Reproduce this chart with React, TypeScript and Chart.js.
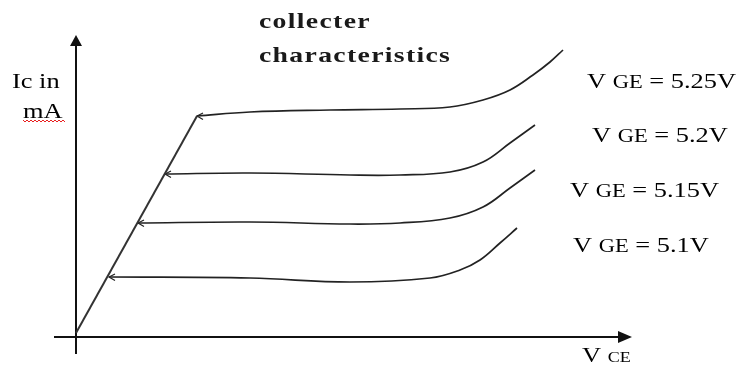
import React, { useEffect, useRef } from 'react';
import { Chart, registerables } from 'chart.js';

Chart.register(...registerables);

// ---- text ----
const TITLE_LINES = ['collecter', 'characteristics'];
const Y_LABEL_LINES = ['Ic in', 'mA'];
const X_LABEL = ['V', 'CE'];
const GATE_VOLTAGES = ['5.25', '5.2', '5.15', '5.1'];

// ---- data (arbitrary units: V_CE, I_C) ----
const vceOhmic = [0, 12.1];
const icOhmic = [0.4, 22.1];

const vce525 = [12.1, 17.4, 25.4, 32.4, 37.4, 40.7, 43.4, 45.7, 47.4, 48.7];
const ic525 = [22.1, 22.5, 22.7, 22.8, 23.0, 23.7, 24.7, 26.2, 27.5, 28.7];

const vce520 = [8.9, 17.4, 27.4, 32.4, 37.4, 40.7, 43.4, 45.9];
const ic520 = [16.3, 16.4, 16.2, 16.2, 16.5, 17.5, 19.4, 21.2];

const vce515 = [6.2, 17.4, 27.4, 32.4, 37.4, 40.7, 43.4, 45.9];
const ic515 = [11.4, 11.5, 11.3, 11.4, 11.9, 13.0, 14.9, 16.7];

const vce510 = [3.3, 17.4, 27.4, 35.4, 38.4, 40.4, 42.4, 44.1];
const ic510 = [6.0, 5.9, 5.5, 5.9, 6.7, 7.7, 9.4, 10.9];

const X_MIN = -2.1;
const X_MAX = 54.6;
const Y_MIN = -1.6;
const Y_MAX = 29.3;

// ---- layout of free text (pixels) ----
const SERIES_LABEL_POS = [
  [587, 88],
  [592, 142],
  [570, 197],
  [573, 252],
];
const TITLE_POS = [
  [259, 28],
  [259, 62],
];
const Y_LABEL_POS = [
  [12, 88],
  [23, 118],
];
const X_LABEL_POS = [582, 362];
const SX = 1.2;
const TITLE_SX = 1.32;
const SERIF = "'Liberation Serif', 'Times New Roman', serif";

const toPts = (xs: number[], ys: number[]) => xs.map((x, i) => ({ x, y: ys[i] }));

type Run = { text: string; font: string };

function drawRuns(
  ctx: CanvasRenderingContext2D,
  x: number,
  y: number,
  runs: Run[],
  spacing = '0px',
  sx = SX,
) {
  ctx.save();
  ctx.translate(x, y);
  ctx.scale(sx, 1);
  (ctx as any).letterSpacing = spacing;
  ctx.textBaseline = 'alphabetic';
  ctx.textAlign = 'left';
  let cx = 0;
  for (const r of runs) {
    ctx.font = r.font;
    ctx.fillText(r.text, cx, 0);
    cx += ctx.measureText(r.text).width;
  }
  ctx.restore();
}

export default function App() {
  const ref = useRef<HTMLCanvasElement | null>(null);

  useEffect(() => {
    if (!ref.current) return;

    const arrow = document.createElement('canvas');
    arrow.width = 16;
    arrow.height = 12;
    const actx = arrow.getContext('2d')!;
    actx.strokeStyle = '#222';
    actx.lineWidth = 1.2;
    actx.beginPath();
    actx.moveTo(14, 3);
    actx.lineTo(8, 6);
    actx.lineTo(14, 9.5);
    actx.stroke();

    const curveBase = {
      showLine: true,
      borderColor: '#222',
      borderWidth: 1.7,
      tension: 0.4,
      pointRadius: (c: any) => (c.dataIndex === 0 ? 4 : 0),
      pointStyle: () => arrow,
      pointHoverRadius: 0,
    };

    const decor = {
      id: 'decor',
      afterDraw(chart: any) {
        const ctx: CanvasRenderingContext2D = chart.ctx;
        const { chartArea } = chart;
        const x0 = chart.scales.x.getPixelForValue(0);
        const y0 = chart.scales.y.getPixelForValue(0);
        ctx.save();
        ctx.fillStyle = '#111';
        // x arrow
        ctx.beginPath();
        ctx.moveTo(chartArea.right + 10, y0);
        ctx.lineTo(chartArea.right - 4, y0 - 6);
        ctx.lineTo(chartArea.right - 4, y0 + 6);
        ctx.closePath();
        ctx.fill();
        // y arrow
        ctx.beginPath();
        ctx.moveTo(x0, chartArea.top - 9);
        ctx.lineTo(x0 - 6, chartArea.top + 2);
        ctx.lineTo(x0 + 6, chartArea.top + 2);
        ctx.closePath();
        ctx.fill();

        // title
        ctx.fillStyle = '#1a1a1a';
        TITLE_LINES.forEach((t, i) => {
          drawRuns(
            ctx,
            TITLE_POS[i][0],
            TITLE_POS[i][1],
            [{ text: t, font: `bold 21px ${SERIF}` }],
            '1px',
            TITLE_SX,
          );
        });

        ctx.fillStyle = '#000';
        // y label
        Y_LABEL_LINES.forEach((t, i) => {
          drawRuns(ctx, Y_LABEL_POS[i][0], Y_LABEL_POS[i][1], [{ text: t, font: `22px ${SERIF}` }]);
        });
        // spell-check squiggle under "mA"
        ctx.strokeStyle = '#e82020';
        ctx.lineWidth = 1;
        ctx.beginPath();
        const sy = Y_LABEL_POS[1][1] + 2;
        for (let xx = Y_LABEL_POS[1][0], k = 0; xx <= Y_LABEL_POS[1][0] + 42; xx += 2, k++) {
          const yy = sy + (k % 2 === 0 ? 0 : 2);
          if (k === 0) ctx.moveTo(xx, yy);
          else ctx.lineTo(xx, yy);
        }
        ctx.stroke();

        // x label
        drawRuns(ctx, X_LABEL_POS[0], X_LABEL_POS[1], [
          { text: X_LABEL[0] + ' ', font: `22px ${SERIF}` },
          { text: X_LABEL[1], font: `15px ${SERIF}` },
        ]);

        // series labels
        GATE_VOLTAGES.forEach((v, i) => {
          drawRuns(ctx, SERIES_LABEL_POS[i][0], SERIES_LABEL_POS[i][1], [
            { text: 'V ', font: `22px ${SERIF}` },
            { text: 'GE', font: `18.75px ${SERIF}` },
            { text: ' = ' + v + 'V', font: `22px ${SERIF}` },
          ]);
        });
        ctx.restore();
      },
    };

    const chart = new Chart(ref.current, {
      type: 'scatter',
      data: {
        datasets: [
          {
            label: 'ohmic',
            data: toPts(vceOhmic, icOhmic),
            showLine: true,
            borderColor: '#333',
            borderWidth: 2,
            pointRadius: 0,
            pointHoverRadius: 0,
          },
          { label: 'V GE = ' + GATE_VOLTAGES[0] + 'V', data: toPts(vce525, ic525), ...curveBase },
          { label: 'V GE = ' + GATE_VOLTAGES[1] + 'V', data: toPts(vce520, ic520), ...curveBase },
          { label: 'V GE = ' + GATE_VOLTAGES[2] + 'V', data: toPts(vce515, ic515), ...curveBase },
          { label: 'V GE = ' + GATE_VOLTAGES[3] + 'V', data: toPts(vce510, ic510), ...curveBase },
        ] as any,
      },
      options: {
        animation: false,
        responsive: false,
        devicePixelRatio: 1,
        layout: { padding: { left: 55, right: 123, top: 44, bottom: 17 } },
        plugins: { legend: { display: false }, tooltip: { enabled: false } },
        events: [],
        scales: {
          x: {
            type: 'linear',
            min: X_MIN,
            max: X_MAX,
            position: { y: 0 } as any,
            grid: { display: false },
            ticks: { display: false },
            border: { display: true, color: '#111', width: 2 },
            afterFit: (s: any) => {
              s.height = 0;
            },
          },
          y: {
            type: 'linear',
            min: Y_MIN,
            max: Y_MAX,
            position: { x: 0 } as any,
            grid: { display: false },
            ticks: { display: false },
            border: { display: true, color: '#111', width: 2 },
            afterFit: (s: any) => {
              s.width = 0;
            },
          },
        },
      },
      plugins: [decor],
    });

    return () => chart.destroy();
  }, []);

  return (
    <div style={{ position: 'absolute', left: 0, top: 0, width: 745, height: 370, background: '#fff' }}>
      <canvas ref={ref} width={745} height={370} style={{ width: 745, height: 370, display: 'block' }} />
    </div>
  );
}
